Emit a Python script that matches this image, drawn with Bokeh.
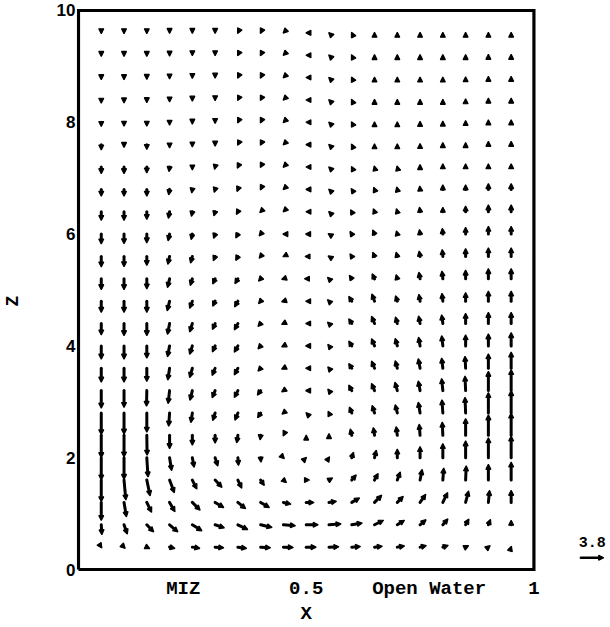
from bokeh.plotting import figure
from bokeh.models import ColumnDataSource, Arrow, NormalHead, FixedTicker, Range1d, LinearAxis
from bokeh.embed import file_html
from bokeh.resources import INLINE
from bokeh.core.properties import value

# ---------------- data ----------------
X_COLS = [0.05, 0.10, 0.15, 0.20, 0.25, 0.30, 0.35, 0.40, 0.45, 0.50,
          0.55, 0.60, 0.65, 0.70, 0.75, 0.80, 0.85, 0.90, 0.95]
Z_ROWS = [0.4, 0.8, 1.2, 1.6, 2.0, 2.4, 2.8, 3.2, 3.6, 4.0, 4.4, 4.8,
          5.2, 5.6, 6.0, 6.4, 6.8, 7.2, 7.6, 8.0, 8.4, 8.8, 9.2, 9.6]

# horizontal velocity, one list per row (bottom row first), columns left to right
U = [
    [0.1, 0.2, 0.5, 0.9, 1.25, 1.45, 1.45, 1.65, 1.65, 1.65, 1.65, 1.45, 1.3, 1.2, 1.05, 0.9, 0.5, 0.3, 0.05],
    [0.1, 0.55, 1.15, 1.4, 1.6, 1.55, 1.65, 1.9, 2.0, 2.0, 2.0, 1.75, 1.5, 1.2, 1.0, 0.85, 0.55, 0.35, 0.0],
    [0.0, 0.4, 0.8, 0.9, 1.3, 1.45, 1.3, 1.45, 1.25, 1.3, 1.25, 1.3, 1.2, 1.0, 0.95, 0.8, 0.5, 0.2, 0.0],
    [0.0, 0.3, 0.55, 0.8, 0.75, 1.15, 0.65, 0.6, 0.5, 0.55, 0.6, 0.75, 0.6, 0.5, 0.35, 0.15, 0.1, 0.0, 0.0],
    [0.0, 0.0, 0.2, 0.35, 0.3, 0.45, 0.1, 0.05, 0.15, 0.05, 0.1, 0.3, 0.3, 0.0, 0.0, 0.0, 0.0, 0.0, 0.0],
    [0.0, 0.0, 0.05, 0.0, 0.0, 0.0, -0.2, -0.1, -0.05, 0.0, 0.0, -0.25, -0.2, -0.2, -0.15, -0.1, 0.0, 0.0, 0.0],
    [0.0, 0.0, 0.0, -0.15, -0.25, -0.4, -0.5, -0.5, -0.25, -0.05, -0.15, -0.4, -0.4, -0.35, -0.3, -0.15, -0.1, 0.0, 0.0],
    [0.0, 0.0, -0.05, -0.25, -0.4, -0.5, -0.6, -0.55, -0.3, -0.1, -0.2, -0.5, -0.5, -0.4, -0.3, -0.2, -0.1, 0.0, 0.0],
    [0.0, 0.0, 0.0, -0.3, -0.45, -0.5, -0.6, -0.45, -0.3, -0.1, -0.2, -0.5, -0.5, -0.35, -0.3, -0.2, -0.1, 0.0, 0.0],
    [0.0, 0.0, 0.0, -0.35, -0.45, -0.45, -0.6, -0.45, -0.3, -0.1, -0.2, -0.5, -0.5, -0.35, -0.25, -0.2, 0.0, 0.0, 0.0],
    [0.0, 0.0, 0.0, -0.35, -0.45, -0.45, -0.6, -0.45, -0.3, -0.1, -0.25, -0.5, -0.5, -0.3, -0.25, -0.2, 0.0, 0.0, 0.0],
    [0.0, 0.0, 0.0, -0.4, -0.45, -0.4, -0.55, -0.35, -0.3, -0.1, -0.25, -0.5, -0.45, -0.3, -0.2, -0.15, 0.0, 0.0, 0.0],
    [0.0, 0.0, 0.0, -0.35, -0.35, -0.4, -0.5, -0.35, -0.3, -0.3, -0.25, -0.4, -0.4, -0.2, -0.2, -0.15, 0.0, 0.0, 0.0],
    [0.0, 0.0, 0.0, -0.3, -0.3, -0.3, -0.35, -0.25, -0.1, -0.2, -0.15, -0.3, -0.3, -0.2, -0.15, -0.1, 0.0, 0.0, 0.0],
    [0.0, 0.0, 0.0, -0.25, -0.2, -0.25, -0.35, -0.25, -0.1, -0.1, -0.15, -0.3, -0.3, -0.15, -0.1, -0.1, 0.0, 0.0, 0.0],
    [0.0, 0.0, 0.0, -0.2, -0.15, -0.2, -0.25, -0.15, -0.05, -0.05, -0.05, -0.2, -0.2, -0.15, -0.1, 0.0, 0.0, 0.0, 0.0],
    [0.0, 0.0, 0.0, -0.15, -0.1, -0.15, -0.15, -0.05, -0.05, -0.05, -0.05, -0.1, -0.15, -0.1, -0.05, 0.0, 0.0, 0.0, 0.0],
    [0.0, 0.0, 0.0, -0.1, 0.0, -0.1, -0.1, -0.05, -0.05, -0.05, -0.05, -0.05, -0.05, -0.05, 0.0, 0.0, 0.0, 0.0, 0.0],
    [0.0, 0.0, 0.0, 0.0, 0.0, 0.0, -0.05, -0.05, -0.05, -0.05, -0.05, -0.05, 0.0, 0.0, 0.0, 0.0, 0.0, 0.0, 0.0],
    [0.0, 0.0, 0.0, 0.0, 0.0, 0.0, -0.05, -0.05, -0.05, -0.05, -0.05, -0.05, 0.0, 0.0, 0.0, 0.0, 0.0, 0.0, 0.0],
    [0.0, 0.0, 0.0, 0.0, 0.0, 0.0, -0.05, -0.05, -0.05, -0.05, -0.05, -0.05, 0.0, 0.0, 0.0, 0.0, 0.0, 0.0, 0.0],
    [0.0, 0.0, 0.0, 0.0, 0.0, 0.0, -0.05, -0.05, -0.05, -0.05, -0.05, -0.05, 0.0, 0.0, 0.0, 0.0, 0.0, 0.0, 0.0],
    [0.0, 0.0, 0.0, 0.0, 0.0, 0.0, -0.05, -0.05, -0.05, -0.05, -0.05, -0.05, 0.0, 0.0, 0.0, 0.0, 0.0, 0.0, 0.0],
    [0.0, 0.0, 0.0, 0.0, 0.0, 0.0, -0.05, -0.05, -0.05, -0.05, -0.05, -0.05, 0.0, 0.0, 0.0, 0.0, 0.0, 0.0, 0.0],
]

# vertical velocity, same layout
W = [
    [-0.15, -0.2, -0.25, -0.2, -0.2, -0.1, -0.2, -0.1, -0.05, 0.0, 0.05, 0.1, 0.15, 0.2, 0.25, 0.3, 0.25, 0.25, 0.15],
    [-1.65, -1.55, -1.2, -1.2, -1.0, -0.5, -0.8, -0.45, -0.15, 0.0, 0.15, 0.3, 0.75, 0.75, 0.85, 1.0, 0.95, 0.9, 0.75],
    [-3.0, -2.4, -1.65, -1.55, -1.3, -0.85, -1.05, -0.85, -0.3, 0.0, 0.2, 0.75, 1.2, 1.0, 1.35, 1.65, 1.9, 2.0, 2.0],
    [-3.6, -3.3, -2.6, -2.1, -1.5, -1.2, -1.35, -0.9, -0.45, 0.0, 0.35, 0.85, 1.1, 1.35, 1.75, 2.0, 2.35, 2.6, 3.0],
    [-3.7, -3.6, -3.2, -2.15, -1.6, -1.4, -1.3, -0.75, -0.15, 0.05, 0.15, 0.9, 1.25, 1.45, 1.85, 2.35, 2.8, 3.3, 3.6],
    [-3.7, -3.6, -3.3, -2.2, -1.65, -1.3, -1.25, -0.75, -0.1, 0.05, 0.3, 1.05, 1.3, 1.45, 1.85, 2.2, 2.8, 3.4, 3.7],
    [-3.6, -3.5, -3.2, -2.2, -1.6, -1.25, -1.2, -0.8, -0.2, 0.05, 0.3, 1.0, 1.25, 1.4, 1.8, 2.2, 2.6, 3.4, 3.7],
    [-2.9, -2.8, -2.6, -2.15, -1.6, -1.2, -1.15, -0.75, -0.2, 0.0, 0.25, 0.95, 1.2, 1.4, 1.6, 2.0, 2.4, 3.2, 3.5],
    [-2.3, -2.3, -2.2, -1.95, -1.55, -1.2, -1.1, -0.5, -0.15, 0.0, 0.25, 0.8, 1.2, 1.25, 1.6, 1.7, 2.0, 2.4, 2.7],
    [-2.2, -2.2, -2.05, -1.8, -1.4, -1.0, -1.05, -0.5, -0.15, 0.0, 0.25, 0.8, 1.2, 1.25, 1.45, 1.7, 1.85, 2.0, 2.2],
    [-1.9, -2.0, -2.0, -1.8, -1.4, -1.0, -1.05, -0.5, -0.15, 0.0, 0.25, 0.8, 1.2, 1.1, 1.25, 1.45, 1.7, 1.85, 1.85],
    [-1.85, -1.85, -1.85, -1.6, -1.2, -0.85, -0.95, -0.4, -0.1, 0.0, 0.25, 0.8, 1.2, 0.9, 1.15, 1.3, 1.45, 1.7, 1.7],
    [-1.8, -1.8, -1.7, -1.45, -1.1, -0.85, -0.8, -0.4, -0.1, 0.0, 0.25, 0.6, 0.85, 0.7, 1.1, 1.3, 1.45, 1.7, 1.7],
    [-1.75, -1.7, -1.5, -1.3, -1.1, -0.7, -0.65, -0.3, -0.05, 0.0, 0.1, 0.45, 0.7, 0.7, 0.9, 1.15, 1.3, 1.45, 1.45],
    [-1.65, -1.6, -1.45, -1.1, -0.9, -0.7, -0.65, -0.3, 0.0, 0.0, 0.1, 0.45, 0.7, 0.55, 0.75, 0.95, 1.15, 1.3, 1.3],
    [-1.45, -1.45, -1.3, -1.1, -0.75, -0.7, -0.45, -0.15, -0.05, 0.0, 0.05, 0.35, 0.5, 0.5, 0.75, 0.75, 0.95, 1.15, 1.15],
    [-1.15, -1.15, -1.15, -0.9, -0.6, -0.5, -0.35, -0.1, -0.05, 0.0, 0.05, 0.15, 0.35, 0.4, 0.55, 0.75, 0.75, 0.95, 0.95],
    [-1.1, -1.1, -1.0, -0.75, -0.5, -0.4, -0.2, -0.1, -0.05, 0.0, 0.05, 0.1, 0.2, 0.2, 0.4, 0.55, 0.55, 0.55, 0.55],
    [-0.9, -0.45, -0.8, -0.55, -0.4, -0.25, -0.1, -0.1, -0.05, 0.0, 0.05, 0.1, 0.15, 0.15, 0.2, 0.35, 0.35, 0.55, 0.55],
    [-0.7, -0.65, -0.65, -0.5, -0.3, -0.2, -0.1, -0.1, -0.05, 0.0, 0.05, 0.1, 0.1, 0.1, 0.15, 0.2, 0.3, 0.4, 0.4],
    [-0.55, -0.5, -0.45, -0.35, -0.2, -0.15, -0.1, -0.1, -0.05, 0.0, 0.05, 0.1, 0.1, 0.1, 0.1, 0.1, 0.2, 0.3, 0.3],
    [-0.35, -0.35, -0.3, -0.25, -0.15, -0.1, -0.1, -0.1, -0.05, 0.0, 0.05, 0.1, 0.1, 0.1, 0.1, 0.1, 0.15, 0.2, 0.2],
    [-0.2, -0.2, -0.2, -0.15, -0.1, -0.1, -0.1, -0.1, -0.05, 0.0, 0.05, 0.1, 0.1, 0.1, 0.1, 0.1, 0.1, 0.15, 0.15],
    [-0.15, -0.15, -0.15, -0.1, -0.1, -0.1, -0.1, -0.1, -0.05, 0.0, 0.05, 0.1, 0.1, 0.1, 0.1, 0.1, 0.1, 0.1, 0.1],
]

X_TICKS = [0.23, 0.5, 0.77, 1.0]
X_TICK_LABELS = ["MIZ", "0.5", "Open Water", "1"]
Z_TICKS = [0, 2, 4, 6, 8, 10]
X_TITLE, X_TITLE_POS = "X", 0.5
Z_TITLE, Z_TITLE_POS = "Z", 4.8
REF_SPEED = 3.8
REF_LABEL = "3.8"

# ---------------- layout ----------------
X_MIN, X_MAX = 0.0, 1.0
Z_MIN, Z_MAX = 0.0, 10.0
CANVAS_W, CANVAS_H = 610, 627
BORDER_L, BORDER_T, BORDER_B = 73, 8, 55
FRAME_W = CANVAS_W - BORDER_L
FRAME_H = CANVAS_H - BORDER_T - BORDER_B
PX_PER_X = 458.0
PX_PER_Z = 56.0
SPEED_PX = 23.0 / REF_SPEED       # pixels of arrow per unit of speed

x_start = X_MIN - 2.0 / PX_PER_X
x_end = x_start + FRAME_W / PX_PER_X
z_start = Z_MIN - 2.0 / PX_PER_Z
z_end = z_start + FRAME_H / PX_PER_Z

kx = SPEED_PX / PX_PER_X
kz = SPEED_PX / PX_PER_Z

xs0, zs0, xs1, zs1 = [], [], [], []
for r, z in enumerate(Z_ROWS):
    for c, x in enumerate(X_COLS):
        xs0.append(x)
        zs0.append(z)
        xs1.append(x + U[r][c] * kx)
        zs1.append(z + W[r][c] * kz)
src = ColumnDataSource(dict(x0=xs0, z0=zs0, x1=xs1, z1=zs1))

p = figure(width=CANVAS_W, height=CANVAS_H,
           x_range=Range1d(x_start, x_end), y_range=Range1d(z_start, z_end),
           output_backend="svg", toolbar_location=None,
           min_border_left=BORDER_L, min_border_right=0,
           min_border_top=BORDER_T, min_border_bottom=BORDER_B)
p.grid.visible = False
p.outline_line_color = None
p.background_fill_color = "white"

# frame box
p.line(x=[X_MIN, X_MAX, X_MAX, X_MIN, X_MIN], y=[Z_MIN, Z_MIN, Z_MAX, Z_MAX, Z_MIN],
       line_width=3.2, line_color="black", line_join="miter")


def head():
    return NormalHead(size=5, fill_color="black", line_color="black", line_width=1.2)


# vectors
p.add_layout(Arrow(end=head(), x_start="x0", y_start="z0", x_end="x1", y_end="z1", source=src,
                   line_width=3.0, line_color="black", line_cap="round"))

# reference vector
LEG_X = 1.103
LEG_Z = 0.21
LEG_TEXT_Z = 0.5
leg_src = ColumnDataSource(dict(x0=[LEG_X], z0=[LEG_Z], x1=[LEG_X + REF_SPEED * kx], z1=[LEG_Z]))
p.add_layout(Arrow(end=head(), x_start="x0", y_start="z0", x_end="x1", y_end="z1", source=leg_src,
                   line_width=2.4, line_color="black", line_cap="round"))
p.text(x=[LEG_X + REF_SPEED * kx / 2], y=[LEG_TEXT_Z], text=[REF_LABEL],
       text_font=value("Liberation Mono"), text_font_size="15px", text_font_style="bold",
       text_align="center", text_baseline="middle", text_color="black")


def style_axis(ax, font, size, standoff):
    ax.axis_line_color = None
    ax.major_tick_line_color = None
    ax.minor_tick_line_color = None
    ax.major_tick_out = 0
    ax.major_tick_in = 0
    ax.minor_tick_out = 0
    ax.minor_tick_in = 0
    ax.major_label_standoff = standoff
    ax.major_label_text_font = font
    ax.major_label_text_font_size = size
    ax.major_label_text_font_style = "bold"
    ax.major_label_text_color = "black"


# x axis with the tick labels
xa = p.xaxis[0]
xa.ticker = FixedTicker(ticks=X_TICKS)
xa.major_label_overrides = {t: s for t, s in zip(X_TICKS, X_TICK_LABELS)}
style_axis(xa, "Liberation Mono", "19px", 6)

# second x axis carrying the "X" title
xt = LinearAxis(ticker=FixedTicker(ticks=[X_TITLE_POS]), major_label_overrides={X_TITLE_POS: X_TITLE})
style_axis(xt, "Liberation Mono", "19px", 0)
p.add_layout(xt, "below")

ya = p.yaxis[0]
ya.ticker = FixedTicker(ticks=Z_TICKS)
style_axis(ya, "Liberation Sans", "17px", 1)

# second y axis carrying the rotated "Z" title
zt = LinearAxis(ticker=FixedTicker(ticks=[Z_TITLE_POS]), major_label_overrides={Z_TITLE_POS: Z_TITLE})
style_axis(zt, "Liberation Mono", "18px", 30)
zt.major_label_orientation = "parallel"
p.add_layout(zt, "left")

open("out.html", "w").write(file_html(p, INLINE))
